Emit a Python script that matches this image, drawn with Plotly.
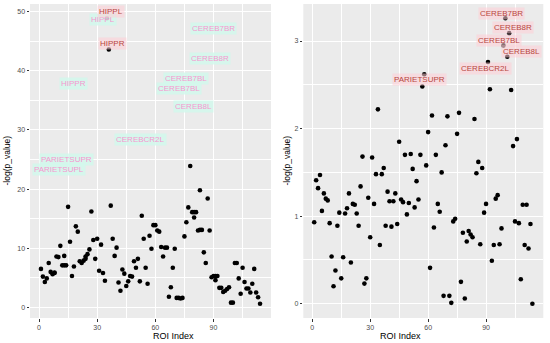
import plotly.graph_objects as go

# ---------------- data ----------------
roi_left = [1, 2, 3, 4, 5, 6, 7, 8, 8, 9, 10, 11, 12, 13, 13, 14, 15, 16, 17, 18,
            19, 20, 21, 22, 23, 24, 24, 25, 26, 27, 28, 29, 30, 31, 32, 33, 34, 35, 36, 37,
            38, 39, 40, 41, 42, 43, 44, 45, 46, 47, 48, 49, 50, 51, 52, 53, 54, 55, 56, 57,
            58, 59, 60, 61, 62, 63, 64, 65, 66, 67, 68, 69, 70, 71, 72, 73, 74, 75, 76, 77,
            78, 79, 80, 80, 81, 82, 83, 83, 84, 85, 86, 87, 88, 89, 90, 91, 91, 92, 93, 94,
            95, 96, 97, 98, 99, 100, 101, 102, 103, 104, 105, 106, 107, 108, 109, 110, 111,
            112, 113, 114]
p_left = [6.5, 5.2, 4.3, 4.9, 7.5, 6.0, 5.6, 5.8, 5.9, 8.6, 8.5, 10.4, 7.1, 7.1, 8.7, 7.1, 17.0, 11.1, 5.3, 6.9,
          13.7, 12.8, 7.8, 7.5, 7.9, 8.2, 8.6, 9.0, 9.8, 16.2, 11.4, 8.2, 11.6, 6.2, 10.6, 5.8, 4.5, 48.9, 43.6, 17.2,
          11.6, 8.7, 10.1, 4.2, 2.8, 6.4, 5.7, 3.6, 4.4, 5.3, 5.2, 7.8, 6.7, 8.2, 4.4, 15.5, 11.6, 6.7, 4.0, 12.1,
          9.9, 13.9, 13.9, 13.0, 12.8, 10.2, 8.6, 10.1, 10.1, 1.8, 3.4, 6.7, 9.9, 1.6, 1.6, 1.5, 1.6, 12.0, 14.4, 16.9,
          23.9, 16.1, 16.1, 15.2, 16.1, 13.0, 13.1, 19.8, 13.1, 9.3, 7.5, 18.4, 13.0, 5.1, 5.3, 5.3, 4.6, 5.3, 3.3, 3.3,
          2.6, 2.8, 3.1, 3.4, 0.8, 0.8, 7.5, 7.5, 4.9, 2.3, 6.7, 4.3, 3.2, 3.2, 2.5, 4.0, 6.5,
          2.5, 1.7, 0.6]

roi_right = list(range(1, 115))
p_right = [0.93, 1.41, 1.32, 1.47, 1.06, 1.26, 1.20, 1.18, 0.92, 0.54,
           0.20, 0.38, 0.89, 1.04, 0.29, 0.53, 1.03, 1.09, 1.26, 0.47,
           1.14, 1.13, 1.03, 0.89, 1.34, 1.68, 0.23, 0.29, 1.21, 0.76,
           1.67, 1.14, 1.48, 2.22, 0.67, 1.48, 1.55, 0.89, 1.28, 1.17,
           0.88, 1.17, 1.26, 0.91, 1.85, 1.19, 1.16, 1.70, 1.02, 1.15,
           1.71, 1.54, 1.10, 1.40, 1.19, 1.70, 2.48, 2.62, 1.58, 1.96,
           0.41, 2.15, 0.87, 1.70, 1.14, 1.05, 1.50, 0.09, 1.81, 2.14,
           0.09, 0.01, 0.94, 0.97, 1.94, 2.18, 0.25, 0.81, 0.06, 0.71,
           0.83, 0.79, 0.76, 2.11, 1.49, 1.62, 0.68, 1.55, 1.04, 1.14,
           2.76, 2.45, 0.49, 0.67, 1.20, 1.24, 0.68, 0.86, 2.95, 3.26,
           2.82, 3.09, 2.44, 1.80, 0.94, 1.88, 0.92, 0.28, 1.13, 0.67,
           1.13, 0.63, 0.91, 0.00]

# highlighted labels (text, x, y) per panel
lab_left_text = ["HIPPL", "HIPPR"]
lab_left_x = [37.1, 38.0]
lab_left_y = [50.0, 44.6]

lab_right_text = ["CEREB7BR", "CEREB8R", "CEREB7BL", "CEREB8L", "CEREBCR2L", "PARIETSUPR"]
lab_right_x = [97.8, 104.2, 96.7, 108.4, 89.7, 55.3]
lab_right_y = [3.32, 3.16, 3.01, 2.88, 2.69, 2.56]

# faint (ghost) labels in left panel
ghost_text = ["HIPPL", "HIPPR", "CEREBCR2L", "PARIETSUPR", "PARIETSUPL",
              "CEREB7BR", "CEREB8R", "CEREB7BL", "CEREB7BL", "CEREB8L"]
ghost_x = [33.1, 17.6, 52.2, 14.4, 10.5, 90.0, 88.4, 76.0, 72.2, 79.9]
ghost_y = [48.6, 37.8, 28.4, 25.0, 23.3, 47.2, 42.1, 38.7, 37.0, 33.9]

FONT = "Liberation Sans, Arial, sans-serif"
GRID_BG = "#EBEBEB"
TICK_COL = "#4D4D4D"

fig = go.Figure()
fig.add_trace(go.Scatter(x=roi_left, y=p_left, mode="markers",
                         marker=dict(color="black", size=4.6), xaxis="x", yaxis="y",
                         showlegend=False, hoverinfo="skip"))
fig.add_trace(go.Scatter(x=roi_right, y=p_right, mode="markers",
                         marker=dict(color="black", size=4.6), xaxis="x2", yaxis="y2",
                         showlegend=False, hoverinfo="skip"))

annotations = []
for t, x, y in zip(ghost_text, ghost_x, ghost_y):
    annotations.append(dict(text=t, x=x, y=y, xref="x", yref="y", showarrow=False,
                            font=dict(family=FONT, size=8, color="#F596D0"),
                            bgcolor="rgba(210,248,236,0.85)", borderpad=1))
for t, x, y in zip(lab_left_text, lab_left_x, lab_left_y):
    annotations.append(dict(text=t, x=x, y=y, xref="x", yref="y", showarrow=False,
                            font=dict(family=FONT, size=8, color="#B8463E"),
                            bgcolor="rgba(255,205,214,0.55)", borderpad=1))
for t, x, y in zip(lab_right_text, lab_right_x, lab_right_y):
    annotations.append(dict(text=t, x=x, y=y, xref="x2", yref="y2", showarrow=False,
                            font=dict(family=FONT, size=8, color="#B8463E"),
                            bgcolor="rgba(255,205,214,0.55)", borderpad=1))

# axis titles as annotations
for xc in [(30 + 271) / 2 / 550, (303.3 + 543.3) / 2 / 550]:
    annotations.append(dict(text="ROI Index", x=xc, y=-0.057, xref="paper", yref="paper",
                            showarrow=False, yanchor="middle",
                            font=dict(family=FONT, size=9, color="black")))
for xc in [6.5 / 550, 286.5 / 550]:
    annotations.append(dict(text="-log(p_value)", x=xc, y=0.5, xref="paper", yref="paper",
                            showarrow=False, textangle=-90, xanchor="center",
                            font=dict(family=FONT, size=8.5, color="black")))


def xaxis_cfg(domain, anchor):
    return dict(domain=domain, anchor=anchor, range=[-4.65, 119.65], tick0=0, dtick=30,
                showgrid=True, gridcolor="white", gridwidth=1.1, zeroline=False,
                ticks="outside", ticklen=2.5, tickcolor="#333333", tickwidth=1,
                tickfont=dict(family=FONT, size=7, color=TICK_COL),
                minor=dict(dtick=15, tick0=0, showgrid=True, gridcolor="white", gridwidth=0.5),
                showline=False)


def yaxis_cfg(domain, anchor, rng, dtick):
    return dict(domain=domain, anchor=anchor, range=rng, tick0=0, dtick=dtick,
                showgrid=True, gridcolor="white", gridwidth=1.1, zeroline=False,
                ticks="outside", ticklen=2.5, tickcolor="#333333", tickwidth=1,
                tickfont=dict(family=FONT, size=7, color=TICK_COL),
                minor=dict(dtick=dtick / 2, tick0=0, showgrid=True, gridcolor="white", gridwidth=0.5),
                showline=False)


fig.update_layout(
    width=550, height=343,
    margin=dict(l=0, r=0, t=4, b=25),
    paper_bgcolor="white",
    plot_bgcolor=GRID_BG,
    xaxis=xaxis_cfg([30 / 550, 271 / 550], "y"),
    yaxis=yaxis_cfg([0, 1], "x", [-1.8, 51.3], 10),
    xaxis2=xaxis_cfg([303.3 / 550, 543.3 / 550], "y2"),
    yaxis2=yaxis_cfg([0, 1], "x2", [-0.163, 3.423], 1),
    annotations=annotations,
    font=dict(family=FONT),
)

fig.write_html("out.html", config={"displayModeBar": False},
               post_script="document.body.style.margin='0';document.body.style.padding='0';")
